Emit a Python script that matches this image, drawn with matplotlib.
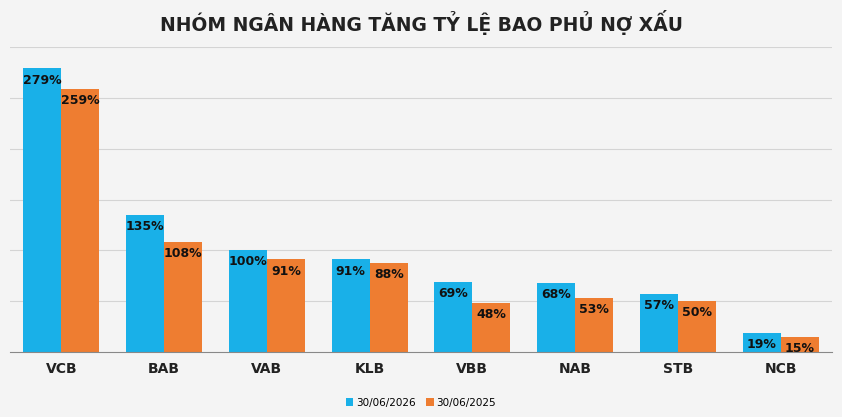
import numpy as np
import matplotlib.pyplot as plt

banks = ['VCB', 'BAB', 'VAB', 'KLB', 'VBB', 'NAB', 'STB', 'NCB']
y2026 = [279, 135, 100, 91, 69, 68, 57, 19]
y2025 = [259, 108, 91, 88, 48, 53, 50, 15]

fig = plt.figure(figsize=(8.42, 4.17), dpi=100, facecolor='#f4f4f4')
ax = fig.add_axes([0.012, 0.156, 0.976, 0.731])
ax.set_facecolor('#f4f4f4')

x = np.arange(len(banks))
w = 0.37
b1 = ax.bar(x - w / 2, y2026, w, color='#19b0e8', label='30/06/2026')
b2 = ax.bar(x + w / 2, y2025, w, color='#ee7d31', label='30/06/2025')

for bars, vals in [(b1, y2026), (b2, y2025)]:
    for r, v in zip(bars, vals):
        ax.text(r.get_x() + r.get_width() / 2, v - 5, f'{v}%', ha='center', va='top',
                fontsize=9, fontweight='bold', color='#111111')

ax.set_xlim(-0.5, len(banks) - 0.5)
ax.set_ylim(0, 300)
ax.set_yticks([50, 100, 150, 200, 250, 300])
ax.yaxis.grid(True, color='#d4d4d4', lw=0.8)
ax.set_axisbelow(True)
ax.tick_params(left=False, labelleft=False, bottom=False)
ax.set_xticks(x)
ax.set_xticklabels(banks, fontsize=10, fontweight='bold', color='#222222')
for s in ['top', 'right', 'left']:
    ax.spines[s].set_visible(False)
ax.spines['bottom'].set_color('#888888')

fig.suptitle('NHÓM NGÂN HÀNG TĂNG TỶ LỆ BAO PHỦ NỢ XẤU', y=0.975,
             fontsize=13.5, fontweight='bold', color='#222222')
fig.legend(loc='lower center', ncol=2, frameon=False, fontsize=7.5,
           bbox_to_anchor=(0.5, 0.0), handlelength=0.7, handleheight=0.7,
           columnspacing=1.0, handletextpad=0.3)

fig.savefig('out.png', facecolor=fig.get_facecolor())
